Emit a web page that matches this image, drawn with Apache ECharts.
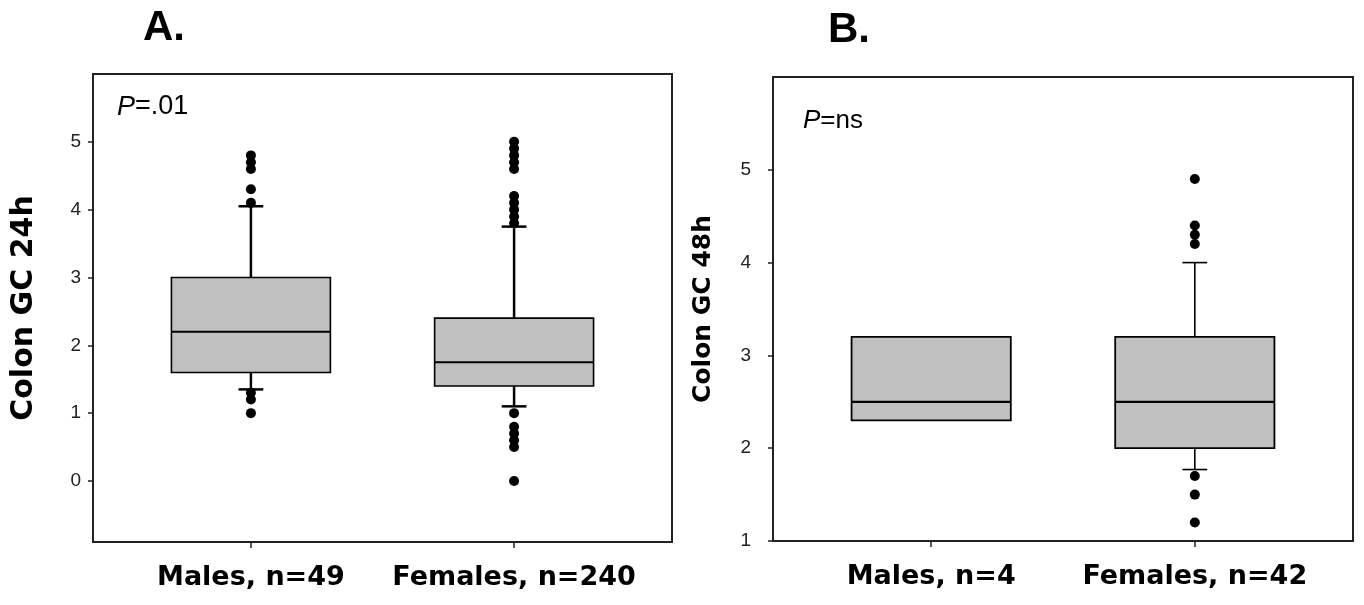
<!DOCTYPE html>
<html>
<head>
<meta charset="utf-8">
<script src="https://cdn.jsdelivr.net/npm/echarts/dist/echarts.min.js"></script>
<style>html,body{margin:0;padding:0;background:#fff}#c{width:1364px;height:605px}</style>
</head>
<body>
<div id="c"></div>
<script>
// ---- data ----
const categoriesA = ['Males, n=49', 'Females, n=240'];
const categoriesB = ['Males, n=4', 'Females, n=42'];
// [lower whisker, Q1, median, Q3, upper whisker]
const boxMalesA = [1.35, 1.6, 2.2, 3.0, 4.05];
const boxFemalesA = [1.1, 1.4, 1.75, 2.4, 3.75];
const outliersMalesA = [4.8, 4.7, 4.6, 4.3, 4.1, 1.3, 1.2, 1.0];
const outliersFemalesA = [5.0, 4.9, 4.8, 4.7, 4.6, 4.2, 4.1, 4.0, 3.9, 3.8, 1.0, 0.8, 0.7, 0.6, 0.5, 0.0];
const boxMalesB = [null, 2.3, 2.5, 3.2, null];
const boxFemalesB = [1.77, 2.0, 2.5, 3.2, 4.0];
const outliersMalesB = [];
const outliersFemalesB = [4.9, 4.4, 4.3, 4.2, 1.7, 1.5, 1.2];
const ticksA = [0, 1, 2, 3, 4, 5];
const ticksB = [1, 2, 3, 4, 5];
const titleA = 'Colon GC 24h';
const titleB = 'Colon GC 48h';
const pTextA = '=.01';
const pTextB = '=ns';

// ---- build ----
const HALF = 0.302; // half box width in category units
const CAP = 0.047;  // half cap width

function boxRender(st) {
  return function (params, api) {
    const x = api.value(0);
    const v = [1, 2, 3, 4, 5].map(i => api.value(i));
    const ok = a => a !== null && a !== undefined && !isNaN(a);
    const children = [];
    const lineStyle = w => ({ stroke: '#000', lineWidth: w });
    const seg = (x1, y1, x2, y2, w) => {
      const p1 = api.coord([x1, y1]), p2 = api.coord([x2, y2]);
      return { type: 'line', shape: { x1: p1[0], y1: p1[1], x2: p2[0], y2: p2[1] }, style: lineStyle(w) };
    };
    if (ok(v[4])) {
      children.push(seg(x, v[3], x, v[4], st.whisker));
      children.push(seg(x - CAP, v[4], x + CAP, v[4], st.whisker));
    }
    if (ok(v[0])) {
      children.push(seg(x, v[1], x, v[0], st.whisker));
      children.push(seg(x - CAP, v[0], x + CAP, v[0], st.whisker));
    }
    const tl = api.coord([x - HALF, v[3]]), br = api.coord([x + HALF, v[1]]);
    children.push({ type: 'rect', shape: { x: tl[0], y: tl[1], width: br[0] - tl[0], height: br[1] - tl[1] },
      style: { fill: '#c0c0c0', stroke: '#000', lineWidth: st.border } });
    children.push(seg(x - HALF, v[2], x + HALF, v[2], st.median));
    return { type: 'group', children: children };
  };
}

function outlierData(idx, arr) { return arr.map(v => [idx, v]); }

const tickFont = { fontFamily: 'Liberation Sans', fontSize: 19, color: '#222' };
const xLabelFont = { fontFamily: 'DejaVu Sans', fontWeight: 'bold', fontSize: 27, color: '#000' };

function xAxisFor(gi, cats) {
  return {
    gridIndex: gi, type: 'value', min: -0.6, max: 1.6,
    axisLine: { show: true, onZero: false, lineStyle: { color: '#222', width: 2 } },
    axisTick: { show: true, customValues: [0, 1], length: 6, lineStyle: { color: '#222', width: 1.5 } },
    axisLabel: Object.assign({ customValues: [0, 1], margin: 22, formatter: v => cats[Math.round(v)] }, xLabelFont),
    splitLine: { show: false }
  };
}
function yAxisFor(gi, min, max, ticks, name, nameSize, nameGap, labelMargin) {
  return {
    gridIndex: gi, type: 'value', min: min, max: max,
    name: name, nameLocation: 'middle', nameGap: nameGap,
    nameTextStyle: { fontFamily: 'DejaVu Sans', fontWeight: 'bold', fontSize: nameSize, color: '#000' },
    axisLine: { show: true, onZero: false, lineStyle: { color: '#222', width: 2 } },
    axisTick: { show: true, customValues: ticks, length: 5, lineStyle: { color: '#222', width: 1.5 } },
    axisLabel: Object.assign({ customValues: ticks, margin: labelMargin }, tickFont),
    splitLine: { show: false }
  };
}

const styleA = { whisker: 2.5, border: 1.6, median: 2 };
const styleB = { whisker: 1.6, border: 1.8, median: 2.2 };

const option = {
  animation: false,
  backgroundColor: '#fff',
  grid: [
    { left: 93, top: 74, width: 579, height: 468, show: true, borderColor: '#222', borderWidth: 2, backgroundColor: 'transparent' },
    { left: 773, top: 77, width: 580, height: 464, show: true, borderColor: '#222', borderWidth: 2, backgroundColor: 'transparent' }
  ],
  xAxis: [xAxisFor(0, categoriesA), xAxisFor(1, categoriesB)],
  yAxis: [
    yAxisFor(0, -0.9, 6, ticksA, titleA, 30, 54, 12),
    yAxisFor(1, 1, 6, ticksB, titleB, 25, 57, 22)
  ],
  series: [
    { type: 'custom', xAxisIndex: 0, yAxisIndex: 0, renderItem: boxRender(styleA),
      encode: { x: 0, y: [1, 2, 3, 4, 5] },
      data: [[0].concat(boxMalesA), [1].concat(boxFemalesA)] },
    { type: 'scatter', xAxisIndex: 0, yAxisIndex: 0, symbolSize: 10, itemStyle: { color: '#000', opacity: 1 },
      data: outlierData(0, outliersMalesA).concat(outlierData(1, outliersFemalesA)), z: 5 },
    { type: 'custom', xAxisIndex: 1, yAxisIndex: 1, renderItem: boxRender(styleB),
      encode: { x: 0, y: [1, 2, 3, 4, 5] },
      data: [[0].concat(boxMalesB), [1].concat(boxFemalesB)] },
    { type: 'scatter', xAxisIndex: 1, yAxisIndex: 1, symbolSize: 10, itemStyle: { color: '#000', opacity: 1 },
      data: outlierData(0, outliersMalesB).concat(outlierData(1, outliersFemalesB)), z: 5 }
  ],
  graphic: [
    { type: 'text', x: 143, y: 28, style: { text: 'A.', font: 'bold 42px "Liberation Sans"', fill: '#000', verticalAlign: 'middle' } },
    { type: 'text', x: 828, y: 30, style: { text: 'B.', font: 'bold 42px "Liberation Sans"', fill: '#000', verticalAlign: 'middle' } },
    { type: 'text', x: 117, y: 107, style: { text: '{i|P}{n|' + pTextA + '}', verticalAlign: 'middle', fill: '#000',
        rich: { i: { fontStyle: 'italic', fontSize: 27, fontFamily: 'Liberation Sans', fill: '#000' },
                n: { fontSize: 27, fontFamily: 'Liberation Sans', fill: '#000' } } } },
    { type: 'text', x: 803, y: 121, style: { text: '{i|P}{n|' + pTextB + '}', verticalAlign: 'middle', fill: '#000',
        rich: { i: { fontStyle: 'italic', fontSize: 26, fontFamily: 'Liberation Sans', fill: '#000' },
                n: { fontSize: 26, fontFamily: 'Liberation Sans', fill: '#000' } } } }
  ]
};

const chart = echarts.init(document.getElementById('c'), null, { renderer: 'canvas' });
chart.setOption(option);
</script>
</body>
</html>
